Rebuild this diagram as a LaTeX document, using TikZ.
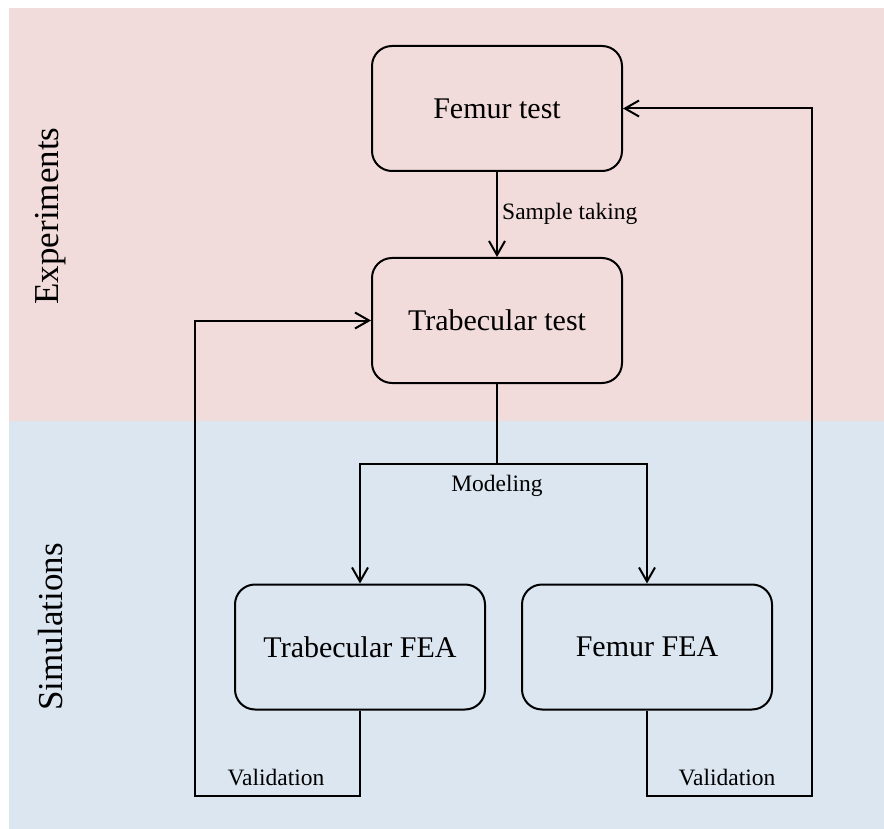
\documentclass[tikz,border=0pt]{standalone}
\usepackage{fontspec}
\setmainfont{Liberation Serif}
\usetikzlibrary{arrows.meta}
\definecolor{expbg}{RGB}{242,220,219}
\definecolor{simbg}{RGB}{220,230,241}
\begin{document}
\begin{tikzpicture}[x=1pt,y=-1pt,
  box/.style={draw,line width=2pt,rounded corners=20pt,minimum width=250pt,minimum height=125pt,inner sep=0pt,font=\fontsize{30}{36}\selectfont},
  conn/.style={line width=2pt},
  arr/.style={conn,-{Straight Barb[length=14pt,width=16pt,line width=2pt]}},
  lbl/.style={font=\fontsize{23.5}{28}\selectfont,inner sep=0pt},
  side/.style={font=\fontsize{35}{42}\selectfont,rotate=90,inner sep=0pt}]
\useasboundingbox (0,0) rectangle (884,829);
\fill[expbg] (9,8) rectangle (884,421);
\fill[simbg] (9,421) rectangle (884,829);
\node[side] (exp) at (51,216) {Experiments};
\node[side] (sim) at (51,627) {Simulations};
\node[box] (ft) at (497,108.5) {Femur test};
\node[box] (tt) at (497,320.5) {Trabecular test};
\node[box] (tf) at (360,647) {Trabecular FEA};
\node[box] (ff) at (647,647) {Femur FEA};
\coordinate (split) at (497,464);
\coordinate (ml) at (360,464);
\coordinate (mr) at (647,464);
\coordinate (lb1) at (360,796);
\coordinate (lb2) at (195,796);
\coordinate (lt) at (195,320.5);
\coordinate (rb1) at (647,796);
\coordinate (rb2) at (812,796);
\coordinate (rt) at (812,108.5);
\draw[arr] (ft.south) -- (tt.north);
\node[lbl,anchor=west] (st) at (502,214) {Sample taking};
\draw[conn] (tt.south) -- (split);
\draw[arr] (split) -- (ml) -- (tf.north);
\draw[arr] (split) -- (mr) -- (ff.north);
\node[lbl] (mod) at (497,486) {Modeling};
\draw[arr] (tf.south) -- (lb1) -- (lb2) -- (lt) -- (tt.west);
\draw[arr] (ff.south) -- (rb1) -- (rb2) -- (rt) -- (ft.east);
\node[lbl] (v1) at (276,778) {Validation};
\node[lbl] (v2) at (727,778) {Validation};
\end{tikzpicture}
\end{document}
